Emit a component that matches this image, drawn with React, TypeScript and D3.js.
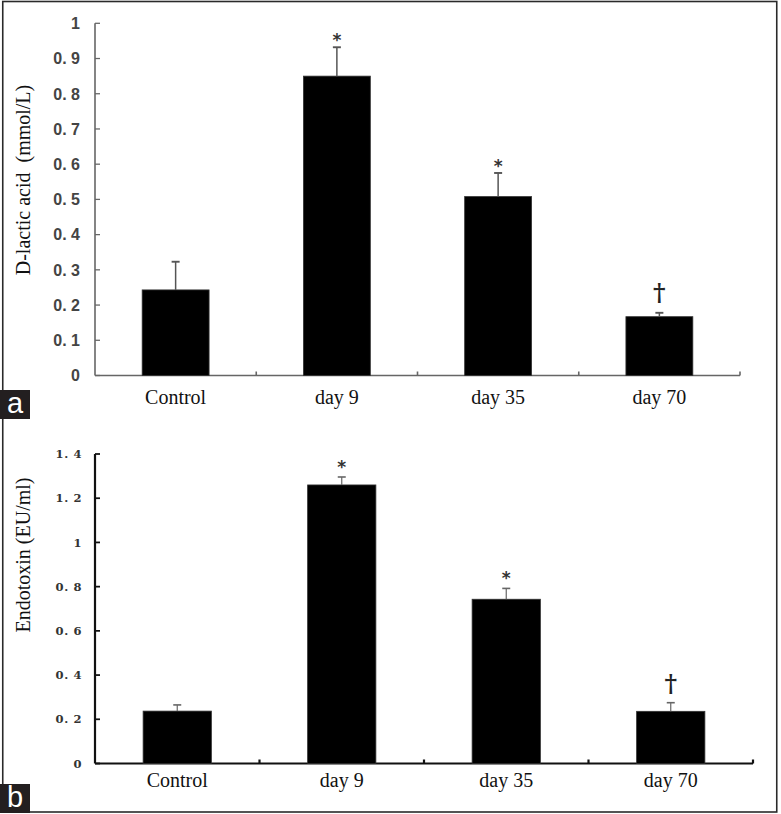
import React from "react";
import * as d3 from "d3";

const categories = ["Control", "day 9", "day 35", "day 70"];
const lacticValues = [0.243, 0.85, 0.508, 0.167];
const lacticErrors = [0.08, 0.082, 0.067, 0.011];
const lacticTicks = [0, 0.1, 0.2, 0.3, 0.4, 0.5, 0.6, 0.7, 0.8, 0.9, 1];
const endoValues = [0.237, 1.26, 0.743, 0.236];
const endoErrors = [0.028, 0.036, 0.049, 0.039];
const endoTicks = [0, 0.2, 0.4, 0.6, 0.8, 1, 1.2, 1.4];
const marks = ["", "*", "*", "†"];

const fmt = (v: number) => {
  if (v === 0 || v === 1) return String(v);
  const s = v.toFixed(1);
  return s.replace(".", ". ");
};

type PanelProps = {
  values: number[];
  errors: number[];
  ticks: number[];
  yMax: number;
  x0: number;
  x1: number;
  yTop: number;
  yBottom: number;
  title: string;
  titleY: number;
  labelBaseline: number;
  axisColor: string;
  axisWidth: number;
  errColor: string;
  errWidth: number;
  tickFont: string;
  tickSize: number;
  tickWeight: string;
  tickColor: string;
  tickRight: number;
  tickSpacing: number;
  starOffset: number;
  daggerOffset: number;
  letter: string;
  letterY: number;
};

function Panel(p: PanelProps) {
  const x = d3
    .scaleBand<string>()
    .domain(categories)
    .range([p.x0, p.x1])
    .paddingInner(0.585)
    .paddingOuter(0.2925);
  const y = d3.scaleLinear().domain([0, p.yMax]).range([p.yBottom, p.yTop]);
  const step = (p.x1 - p.x0) / categories.length;
  const boundaries = d3.range(1, categories.length + 1).map((i) => p.x0 + i * step);
  return (
    <g>
      <line x1={p.x0} x2={p.x0} y1={y(0)} y2={y(p.yMax)} stroke={p.axisColor} strokeWidth={p.axisWidth} />
      {p.ticks.map((t) => (
        <g key={"t" + t}>
          <line x1={p.x0} x2={p.x0 + 5} y1={y(t)} y2={y(t)} stroke={p.axisColor} strokeWidth={p.axisWidth * 0.8} />
          <text
            x={p.tickRight}
            y={y(t)}
            dy="0.36em"
            textAnchor="end"
            fontFamily={p.tickFont}
            fontSize={p.tickSize}
            fontWeight={p.tickWeight}
            fill={p.tickColor}
            letterSpacing={p.tickSpacing}
            style={{ whiteSpace: "pre" }}
          >
            {fmt(t)}
          </text>
        </g>
      ))}
      <line x1={p.x0} x2={p.x1} y1={y(0)} y2={y(0)} stroke={p.axisColor} strokeWidth={p.axisWidth} />
      {boundaries.map((b, i) => (
        <line key={"b" + i} x1={b} x2={b} y1={y(0)} y2={y(0) - 4} stroke={p.axisColor} strokeWidth={p.axisWidth} />
      ))}
      {categories.map((c, i) => {
        const bx = x(c)!;
        const bw = x.bandwidth();
        const cx = bx + bw / 2;
        const top = y(p.values[i]);
        const et = y(p.values[i] + p.errors[i]);
        return (
          <g key={c}>
            <rect x={bx} y={top} width={bw} height={y(0) - top} fill="#000" stroke="#333" strokeWidth={0.8} />
            <line x1={cx} x2={cx} y1={top} y2={et} stroke={p.errColor} strokeWidth={p.errWidth} />
            <line x1={cx - 4} x2={cx + 4} y1={et} y2={et} stroke={p.errColor} strokeWidth={p.errWidth + 0.4} />
            {marks[i] === "*" && (
              <text x={cx} y={et - p.starOffset} textAnchor="middle" fontFamily="DejaVu Sans" fontWeight="bold" fontSize={17} fill="#333">
                {marks[i]}
              </text>
            )}
            {marks[i] === "†" && (
              <text x={cx} y={et - p.daggerOffset} textAnchor="middle" fontFamily="DejaVu Serif" fontWeight="bold" fontSize={24} fill="#222">
                {marks[i]}
              </text>
            )}
            <text x={cx} y={p.labelBaseline} textAnchor="middle" fontFamily="Liberation Serif" fontSize={20} fill="#111">
              {c}
            </text>
          </g>
        );
      })}
      <text
        transform={`translate(30,${p.titleY}) rotate(-90)`}
        textAnchor="middle"
        fontFamily="Liberation Serif"
        fontSize={20}
        fill="#111"
        style={{ whiteSpace: "pre" }}
      >
        {p.title}
      </text>
      <rect x={0} y={p.letterY} width={30} height={29} fill="#231f20" />
      <text x={15} y={p.letterY + 23} textAnchor="middle" fontFamily="Liberation Sans" fontSize={29} fill="#fff">
        {p.letter}
      </text>
    </g>
  );
}

export default function App() {
  return (
    <svg width={781} height={814} style={{ position: "absolute", left: 0, top: 0, background: "#fff" }}>
      <rect x={0} y={0} width={781} height={814} fill="#fff" />
      <rect x={2.75} y={1.5} width={774} height={810.5} fill="none" stroke="#2a2a2a" strokeWidth={1.6} />
      <Panel
        values={lacticValues}
        errors={lacticErrors}
        ticks={lacticTicks}
        yMax={1}
        x0={95}
        x1={740}
        yTop={23.3}
        yBottom={375.5}
        title={"D-lactic acid\u00a0\u00a0(mmol/L)"}
        titleY={180}
        labelBaseline={404}
        axisColor="#666"
        axisWidth={1.6}
        errColor="#555"
        errWidth={1.5}
        tickFont="Liberation Sans"
        tickSize={16}
        tickWeight="bold"
        tickColor="#444"
        tickRight={80}
        tickSpacing={0}
        starOffset={1}
        daggerOffset={12}
        letter="a"
        letterY={390}
      />
      <Panel
        values={endoValues}
        errors={endoErrors}
        ticks={endoTicks}
        yMax={1.4}
        x0={95}
        x1={753}
        yTop={454}
        yBottom={763.5}
        title="Endotoxin (EU/ml)"
        titleY={555}
        labelBaseline={787}
        axisColor="#111"
        axisWidth={2.2}
        errColor="#666"
        errWidth={1.2}
        tickFont="DejaVu Serif"
        tickSize={11.5}
        tickWeight="bold"
        tickColor="#333"
        tickRight={82}
        tickSpacing={0.6}
        starOffset={4}
        daggerOffset={11}
        letter="b"
        letterY={784}
      />
    </svg>
  );
}
